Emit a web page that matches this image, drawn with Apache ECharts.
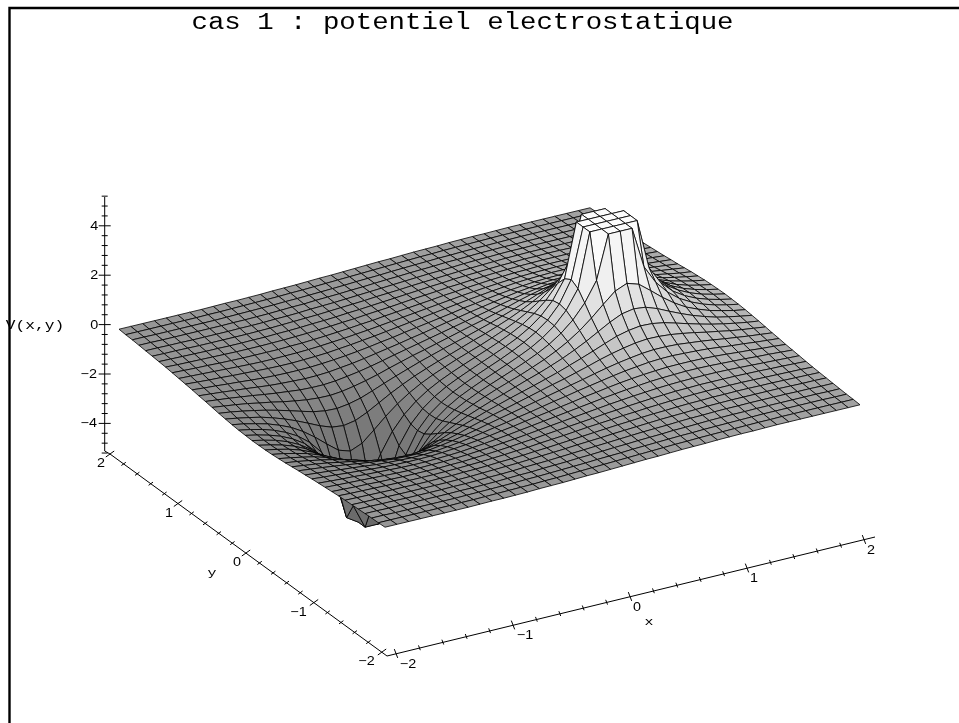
<!DOCTYPE html>
<html><head><meta charset="utf-8">
<style>html,body{margin:0;padding:0;background:#fff}#c{width:959px;height:723px}</style>
<script src="https://cdn.jsdelivr.net/npm/echarts@6/dist/echarts.min.js"></script>
</head><body><div id="c"></div>
<script>
const titleText = 'cas 1 : potentiel electrostatique';
const xNodes = [-2,-1.9,-1.8,-1.7,-1.6,-1.5,-1.4,-1.3,-1.2,-1.1,-1,-.9,-.8,-.7,-.6,-.5,-.4,-.3,-.2,-.1,0,.1,.2,.3,.4,.5,.6,.7,.8,.9,1,1.1,1.2,1.3,1.4,1.5,1.6,1.7,1.8,1.9,2];
const yNodes = xNodes;
// estimated heights V(x,y), one row per |y| (0.0 to 2.0), columns x = -2 ... 2
const yRow00=[-.67,-.77,-.89,-1.06,-1.29,-1.6,-2.08,-2.9,-4.7,-5,-5,-5,-4.7,-2.74,-1.87,-1.33,-.96,-.66,-.42,-.2,0,.2,.42,.66,.96,1.33,1.87,2.74,4.75,4.75,4.75,4.75,4.75,2.9,2.08,1.6,1.29,1.06,.89,.77,.67];
const yRow01=[-.66,-.76,-.88,-1.04,-1.26,-1.56,-2.01,-2.73,-4.02,-5,-5,-5,-3.92,-2.57,-1.81,-1.3,-.93,-.64,-.41,-.2,0,.2,.41,.64,.93,1.3,1.81,2.57,4.75,4.75,4.75,4.75,4.75,2.73,2.01,1.56,1.26,1.04,.88,.76,.66];
const yRow02=[-.65,-.74,-.85,-1,-1.2,-1.46,-1.83,-2.34,-3.09,-4,-4.7,-3.95,-2.99,-2.19,-1.62,-1.2,-.87,-.61,-.39,-.19,0,.19,.39,.61,.87,1.2,1.62,2.19,2.99,4.75,4.75,4.75,3.09,2.34,1.83,1.46,1.2,1,.85,.74,.65];
const yRow03=[-.63,-.71,-.82,-.94,-1.11,-1.31,-1.59,-1.93,-2.32,-2.69,-2.84,-2.64,-2.22,-1.78,-1.39,-1.06,-.79,-.56,-.36,-.17,0,.17,.36,.56,.79,1.06,1.39,1.78,2.22,2.64,2.84,2.69,2.32,1.93,1.59,1.31,1.11,.94,.82,.71,.63];
const yRow04=[-.6,-.68,-.77,-.87,-1.01,-1.17,-1.36,-1.57,-1.79,-1.96,-2.01,-1.92,-1.7,-1.43,-1.16,-.92,-.7,-.51,-.33,-.17,0,.17,.33,.51,.7,.92,1.16,1.43,1.7,1.92,2.01,1.96,1.79,1.57,1.36,1.17,1.01,.87,.77,.68,.6];
const yRow05=[-.57,-.63,-.71,-.8,-.9,-1.02,-1.15,-1.29,-1.42,-1.5,-1.52,-1.45,-1.33,-1.15,-.96,-.78,-.61,-.44,-.29,-.14,0,.14,.29,.44,.61,.78,.96,1.15,1.33,1.45,1.52,1.5,1.42,1.29,1.15,1.02,.9,.8,.71,.63,.57];
const yRow06=[-.53,-.59,-.65,-.72,-.81,-.89,-.99,-1.07,-1.14,-1.18,-1.19,-1.14,-1.05,-.94,-.81,-.66,-.52,-.38,-.26,-.13,0,.13,.26,.38,.52,.66,.81,.94,1.05,1.14,1.19,1.18,1.14,1.07,.99,.89,.81,.72,.65,.59,.53];
const yRow07=[-.49,-.54,-.59,-.65,-.71,-.78,-.84,-.89,-.94,-.96,-.96,-.92,-.85,-.77,-.67,-.56,-.44,-.33,-.22,-.11,0,.11,.22,.33,.44,.56,.67,.77,.85,.92,.96,.96,.94,.89,.84,.78,.71,.65,.59,.54,.49];
const yRow08=[-.46,-.5,-.54,-.59,-.63,-.68,-.73,-.76,-.78,-.8,-.79,-.76,-.7,-.64,-.56,-.47,-.38,-.29,-.19,-.1,0,.1,.19,.29,.38,.47,.56,.64,.7,.76,.79,.8,.78,.76,.73,.68,.63,.59,.54,.5,.46];
const yRow09=[-.42,-.46,-.49,-.53,-.56,-.6,-.63,-.65,-.66,-.66,-.65,-.62,-.58,-.53,-.47,-.4,-.32,-.25,-.16,-.08,0,.08,.16,.25,.32,.4,.47,.53,.58,.62,.65,.66,.66,.65,.63,.6,.56,.53,.49,.46,.42];
const yRow10=[-.39,-.42,-.45,-.47,-.5,-.52,-.54,-.56,-.57,-.57,-.55,-.53,-.5,-.45,-.4,-.34,-.28,-.21,-.14,-.07,0,.07,.14,.21,.28,.34,.4,.45,.5,.53,.55,.57,.57,.56,.54,.52,.5,.47,.45,.42,.39];
const yRow11=[-.36,-.38,-.4,-.42,-.44,-.46,-.48,-.49,-.49,-.48,-.47,-.45,-.42,-.38,-.34,-.29,-.24,-.18,-.12,-.06,0,.06,.12,.18,.24,.29,.34,.38,.42,.45,.47,.48,.49,.49,.48,.46,.44,.42,.4,.38,.36];
const yRow12=[-.33,-.35,-.37,-.38,-.4,-.41,-.42,-.42,-.42,-.42,-.4,-.39,-.36,-.33,-.29,-.25,-.2,-.16,-.1,-.05,0,.05,.1,.16,.2,.25,.29,.33,.36,.39,.4,.42,.42,.42,.42,.41,.4,.38,.37,.35,.33];
const yRow13=[-.3,-.32,-.33,-.34,-.35,-.36,-.37,-.37,-.37,-.36,-.35,-.33,-.31,-.28,-.25,-.21,-.18,-.13,-.09,-.05,0,.05,.09,.13,.18,.21,.25,.28,.31,.33,.35,.36,.37,.37,.37,.36,.35,.34,.33,.32,.3];
const yRow14=[-.28,-.29,-.3,-.31,-.32,-.32,-.33,-.33,-.32,-.32,-.3,-.29,-.27,-.24,-.22,-.19,-.15,-.12,-.08,-.04,0,.04,.08,.12,.15,.19,.22,.24,.27,.29,.3,.32,.32,.33,.33,.32,.32,.31,.3,.29,.28];
const yRow15=[-.26,-.27,-.27,-.28,-.29,-.29,-.29,-.29,-.29,-.28,-.27,-.25,-.23,-.21,-.19,-.16,-.13,-.1,-.07,-.03,0,.03,.07,.1,.13,.16,.19,.21,.23,.25,.27,.28,.29,.29,.29,.29,.29,.28,.27,.27,.26];
const yRow16=[-.24,-.24,-.25,-.25,-.26,-.26,-.26,-.26,-.25,-.25,-.24,-.22,-.21,-.19,-.16,-.14,-.12,-.09,-.06,-.03,0,.03,.06,.09,.12,.14,.16,.19,.21,.22,.24,.25,.25,.26,.26,.26,.26,.25,.25,.24,.24];
const yRow17=[-.22,-.22,-.23,-.23,-.23,-.23,-.23,-.23,-.22,-.22,-.21,-.2,-.18,-.16,-.15,-.12,-.1,-.08,-.05,-.03,0,.03,.05,.08,.1,.12,.15,.16,.18,.2,.21,.22,.22,.23,.23,.23,.23,.23,.23,.22,.22];
const yRow18=[-.2,-.2,-.21,-.21,-.21,-.21,-.21,-.21,-.2,-.19,-.18,-.17,-.16,-.14,-.13,-.11,-.09,-.07,-.05,-.02,0,.02,.05,.07,.09,.11,.13,.14,.16,.17,.18,.19,.2,.21,.21,.21,.21,.21,.21,.2,.2];
const yRow19=[-.19,-.19,-.19,-.19,-.19,-.19,-.19,-.18,-.18,-.17,-.16,-.15,-.14,-.13,-.11,-.1,-.08,-.06,-.04,-.02,0,.02,.04,.06,.08,.1,.11,.13,.14,.15,.16,.17,.18,.18,.19,.19,.19,.19,.19,.19,.19];
const yRow20=[-.17,-.17,-.17,-.17,-.17,-.17,-.17,-.17,-.16,-.15,-.15,-.14,-.13,-.11,-.1,-.09,-.07,-.05,-.04,-.02,0,.02,.04,.05,.07,.09,.1,.11,.13,.14,.15,.15,.16,.17,.17,.17,.17,.17,.17,.17,.17];
const surfaceRows=[yRow20,yRow19,yRow18,yRow17,yRow16,yRow15,yRow14,yRow13,yRow12,yRow11,yRow10,yRow09,yRow08,yRow07,yRow06,yRow05,yRow04,yRow03,yRow02,yRow01,yRow00,yRow01,yRow02,yRow03,yRow04,yRow05,yRow06,yRow07,yRow08,yRow09,yRow10,yRow11,yRow12,yRow13,yRow14,yRow15,yRow16,yRow17,yRow18,yRow19,yRow20];
const xTicks=[-2,-1,0,1,2], yTicks=[-2,-1,0,1,2], zTicks=[-4,-2,0,2,4];

// gray ramp by height
const rampZ=[-5,-2,-.5,0,.5,1,2,3,4.4], rampG=[105,122,145,155,175,195,220,238,252];
function gray(z){let i=0;while(i<rampZ.length-2&&z>rampZ[i+1])i++;
 const t=Math.max(0,Math.min(1,(z-rampZ[i])/(rampZ[i+1]-rampZ[i])));const g=Math.round(rampG[i]+t*(rampG[i+1]-rampG[i]));return `rgb(${g},${g},${g})`;}
// projection of a surface point on the page plane
function proj(x,y,z){const u=(x+2)/4,v=(y+2)/4;
 const sx=385*(1-u)*(1-v)+860*u*(1-v)+119*(1-u)*v+590*u*v;
 const sy=523*(1-u)*(1-v)+409*u*(1-v)+325*(1-u)*v+212*u*v;
 return [sx,sy-24.75*z];}
const cells=[];for(let j=yNodes.length-2;j>=0;j--)for(let i=xNodes.length-2;i>=0;i--)cells.push([i,j]);
function renderCell(p,api){const i=api.value(0),j=api.value(1);
 const c=[[i,j],[i+1,j],[i+1,j+1],[i,j+1]];let s=0;
 const pts=c.map(([a,b])=>{const z=surfaceRows[b][a];s+=z;return api.coord(proj(xNodes[a],yNodes[b],z));});
 return {type:'polygon',shape:{points:pts},style:{fill:gray(s/4),stroke:'#000',lineWidth:.8,lineJoin:'round'}};}

const xAx=t=>[630+117*t,596.5-28.5*t], yAx=t=>[246-68*t,553-49.5*t], zAx=t=>[104.7,324.6-24.7*t];
const axisItems=[];
function seg(a,b){axisItems.push({k:'l',a,b});}
function lab(text,p,sx,mono,fs){axisItems.push({k:'t',text,p,sx,mono,fs});}
seg([104.7,197],[104.7,451]);seg([104.7,451],[110,454]);seg([110,454],[387,656]);seg([387,656],[875,537]);
for(let n=-13;n<=13;n++){const t=n*.4,P=zAx(t);const major=zTicks.includes(Math.round(t*10)/10);const w=major?6:3;seg([P[0]-w,P[1]],[P[0]+w,P[1]]);}
for(let n=-10;n<=10;n++){const t=n/5,maj=n%5===0;
 let P=xAx(t),dx=maj?1.7:.9,dy=maj?4.4:2.4;seg([P[0]-dx,P[1]-dy],[P[0]+dx,P[1]+dy]);
 P=yAx(t);dx=maj?4.2:2.2;dy=maj?3:1.6;seg([P[0]-dx,P[1]+dy],[P[0]+dx,P[1]-dy]);}
const m=v=>v<0?'\u2212'+(-v):String(v);
xTicks.forEach(t=>{const P=xAx(t);lab(m(t),[P[0]+(t<0?12:7),P[1]+11],1.15,false,12.5);});
yTicks.forEach(t=>{const P=yAx(t);lab(m(t),[P[0]-(t<0?15.5:9),P[1]+10],1.15,false,12.5);});
zTicks.forEach(t=>{const P=zAx(t);lab(m(t),[P[0]-(t<0?16:10.5),P[1]+.5],1.15,false,12.5);});
lab('x',[649,622],1.3,true,11.5);lab('y',[212,573],1.3,true,11.5);lab('V(x,y)',[35,326],1.35,true,12);
lab(titleText,[462.5,23],1.19,true,23);

function renderAxis(p,api){const it=axisItems[api.value(0)];
 if(it.k==='l'){const a=api.coord(it.a),b=api.coord(it.b);return {type:'line',shape:{x1:a[0],y1:a[1],x2:b[0],y2:b[1]},style:{stroke:'#000',lineWidth:1}};}
 const q=api.coord(it.p);
 return {type:'text',x:q[0],y:q[1],scaleX:it.sx,style:{text:it.text,fill:'#000',align:'center',verticalAlign:'middle',
  font:`${it.fs}px ${it.mono?'"Liberation Mono"':'"Liberation Sans"'}`}};}

const chart=echarts.init(document.getElementById('c'),null,{renderer:'canvas'});
chart.setOption({animation:false,backgroundColor:'#fff',
 grid:{left:0,right:0,top:0,bottom:0},
 xAxis:{type:'value',min:0,max:959,show:false},
 yAxis:{type:'value',min:0,max:723,inverse:true,show:false},
 graphic:[{type:'polyline',silent:true,shape:{points:[[9.5,723],[9.5,8],[959,8]]},style:{fill:'none',stroke:'#000',lineWidth:2.4},z:50}],
 series:[
  {type:'custom',renderItem:renderCell,data:cells,progressive:0,clip:false,silent:true,z:2,encode:{x:0,y:1}},
  {type:'custom',renderItem:renderAxis,data:axisItems.map((_,i)=>[i,0]),progressive:0,clip:false,silent:true,z:3,encode:{x:0,y:1}}
 ]});
</script></body></html>
